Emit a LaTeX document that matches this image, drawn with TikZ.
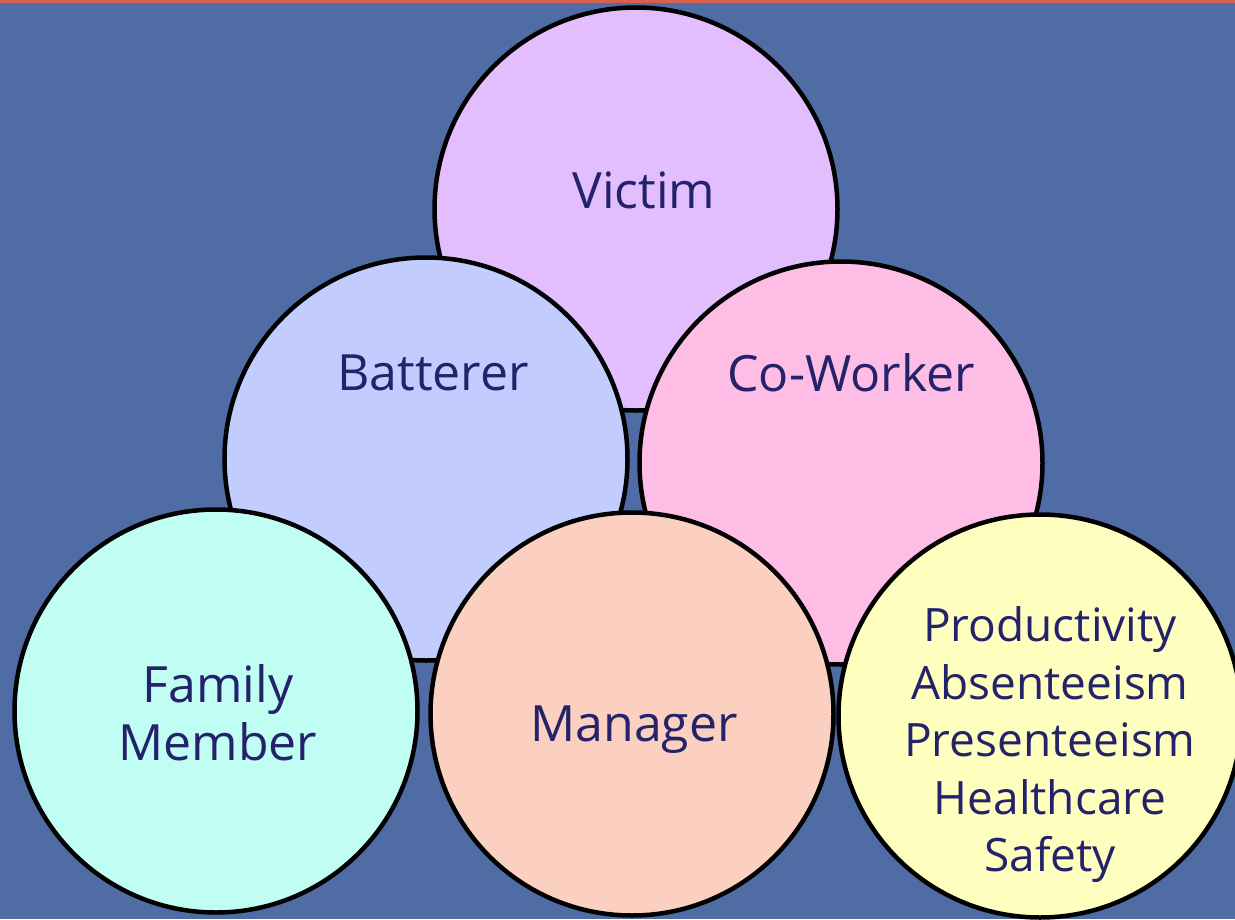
\documentclass[tikz,border=0pt]{standalone}
\usepackage{fontspec}
\setmainfont{Open Sans}
\definecolor{bgblue}{HTML}{4F6CA5}
\definecolor{topline}{HTML}{D8604C}
\definecolor{inkblue}{HTML}{23226A}
\definecolor{cVictim}{HTML}{E3BEFE}
\definecolor{cBatterer}{HTML}{C3CCFE}
\definecolor{cCoworker}{HTML}{FDBDE5}
\definecolor{cFamily}{HTML}{C0FEF4}
\definecolor{cManager}{HTML}{FCD0C0}
\definecolor{cImpact}{HTML}{FEFEBE}
\begin{document}
\begin{tikzpicture}[x=1pt,y=-1pt,
  bubble/.style={circle, draw=black, line width=4.5pt, minimum size=403pt, inner sep=0pt},
  caption/.style={text=inkblue, font=\fontsize{50}{58}\selectfont, align=center, inner sep=0pt},
  listcaption/.style={caption, font=\fontsize{46}{57.5}\selectfont}]
  % page and top rule
  \fill[bgblue] (0,0) rectangle (1235,919);
  \useasboundingbox (0,0) rectangle (1235,919);
  \fill[topline] (0,0) rectangle (1235,3);
  % back row to front row
  \node[bubble, fill=cVictim]   (victim)   at (636,209) {};
  \node[bubble, fill=cBatterer] (batterer) at (426,459) {};
  \node[bubble, fill=cCoworker] (coworker) at (841,463) {};
  \node[bubble, fill=cFamily]   (family)   at (216,711) {};
  \node[bubble, fill=cManager]  (manager)  at (632,714) {};
  \node[bubble, fill=cImpact]   (impact)   at (1040,716) {};
  % captions
  \node[caption] (victimT)   at (644,190) {Victim};
  \node[caption] (battererT) at (433,373) {Batterer};
  \node[caption] (coworkerT) at (851,373) {Co-Worker};
  \node[caption] (familyT)   at (218,713) {Family\\Member};
  \node[caption] (managerT)  at (634,730) {Manager};
  \node[listcaption] (impactT) at (1050,745) {Productivity\\Absenteeism\\Presenteeism\\Healthcare\\Safety};
\end{tikzpicture}
\end{document}
